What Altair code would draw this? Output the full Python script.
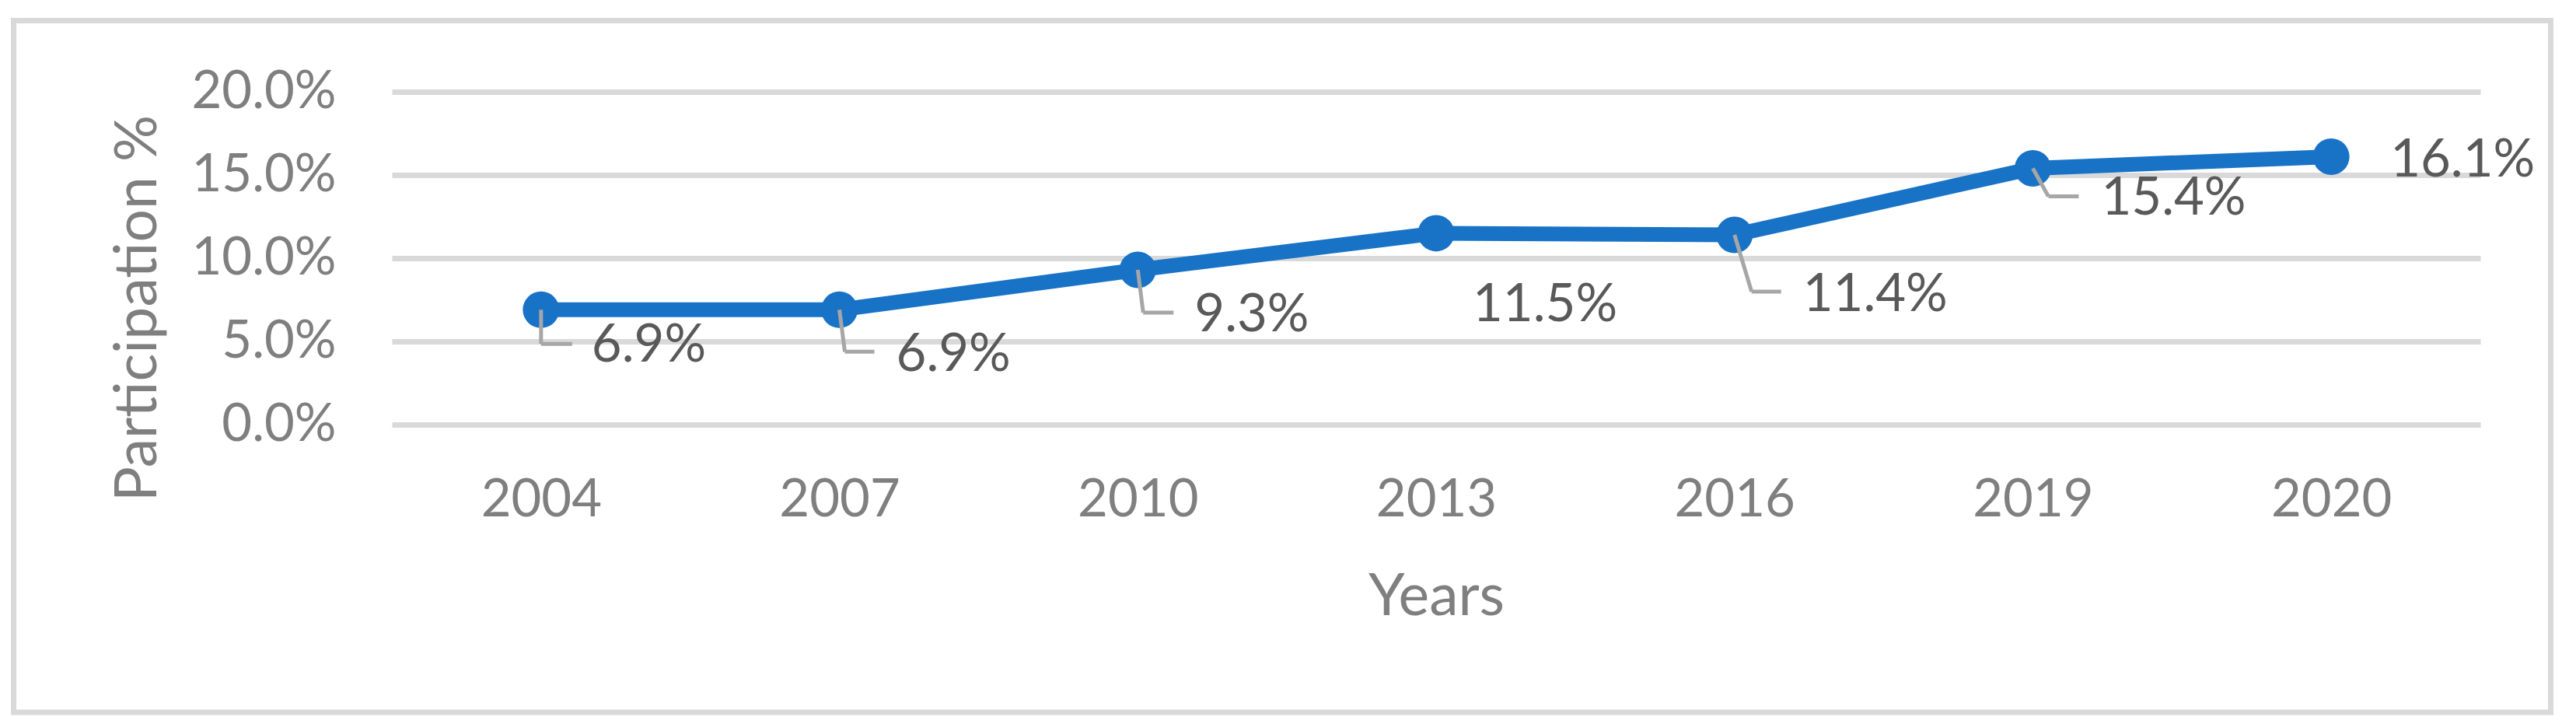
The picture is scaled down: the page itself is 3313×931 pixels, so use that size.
import altair as alt
import pandas as pd

# ---- data ----
years = ["2004", "2007", "2010", "2013", "2016", "2019", "2020"]
participation = [0.069, 0.069, 0.093, 0.115, 0.114, 0.154, 0.161]
y_ticks = [0.0, 0.05, 0.10, 0.15, 0.20]

df = pd.DataFrame({"year": years, "value": participation})

# ---- styling: manual data-label placement (pixel offsets from each marker) ----
label_dx = [65, 73, 73, 47, 88, 88, 76]
label_dy = [67, 79, 79, 113, 98, 60, 26]
# leader line elbow (dx, dy) and horizontal run length; None = no leader
leader_elbow = [(0, 44), (7, 54), (7, 55), None, (22, 73), (20, 36), None]
leader_run = [40, 38, 39, 0, 38, 39, 0]

W, H = 2686, 428
FONT = "Lato"
BLUE = "#1873C7"
GRID = "#D9D9D9"
AXIS_TXT = "#7F7F7F"
LABEL_TXT = "#595959"
LEADER = "#A6A6A6"

x_enc = alt.X(
    "year:O",
    sort=years,
    scale=alt.Scale(type="point", padding=0.5, domain=years),
    axis=alt.Axis(
        title="Years",
        labelAngle=0,
        labelFont=FONT,
        labelFontSize=67,
        labelColor=AXIS_TXT,
        labelBaseline="alphabetic",
        labelPadding=117,
        labelLimit=0,
        ticks=False,
        domain=False,
        grid=False,
        titleFont=FONT,
        titleFontSize=75,
        titleFontWeight="normal",
        titleColor=AXIS_TXT,
        titleBaseline="alphabetic",
        titleY=244,
        titleX=W / 2,
        titleAlign="center",
        titleLimit=0,
    ),
)
y_enc = alt.Y(
    "value:Q",
    scale=alt.Scale(domain=[0, 0.2], nice=False, zero=True),
    axis=alt.Axis(
        values=y_ticks,
        format=".1%",
        title="Participation %",
        labelFont=FONT,
        labelFontSize=67,
        labelColor=AXIS_TXT,
        labelPadding=72,
        labelLimit=0,
        ticks=False,
        domain=False,
        grid=True,
        gridColor=GRID,
        gridWidth=7,
        titleFont=FONT,
        titleFontSize=75,
        titleFontWeight="normal",
        titleColor=AXIS_TXT,
        titleAngle=270,
        titleAlign="center",
        titleBaseline="alphabetic",
        titleX=-304,
        titleY=278,
        titleLimit=0,
    ),
)

frame = alt.Chart(pd.DataFrame({"a": [0]})).mark_rect(
    fill=None, stroke=GRID, strokeWidth=7
).encode(
    x=alt.value(-486.5), x2=alt.value(2776.5), y=alt.value(-91.5), y2=alt.value(798)
)

base = alt.Chart(df)
line = base.mark_line(color=BLUE, strokeWidth=19).encode(x=x_enc, y=y_enc)
points = base.mark_circle(size=2209, color=BLUE, opacity=1).encode(x=x_enc, y=y_enc)

layers = [frame, line, points]

for i, yr in enumerate(years):
    sub = base.transform_filter(alt.datum.year == yr)
    if leader_elbow[i] is not None:
        ex, ey = leader_elbow[i]
        seg1 = sub.mark_rule(
            color=LEADER, strokeWidth=5,
            xOffset=0, yOffset=0, x2Offset=ex, y2Offset=ey,
        ).encode(x=x_enc, y=y_enc, x2=alt.X2("year"), y2=alt.Y2("value"))
        seg2 = sub.mark_rule(
            color=LEADER, strokeWidth=5,
            xOffset=ex, yOffset=ey, x2Offset=ex + leader_run[i], y2Offset=ey,
        ).encode(x=x_enc, y=y_enc, x2=alt.X2("year"), y2=alt.Y2("value"))
        layers += [seg1, seg2]
    txt = sub.mark_text(
        align="left", baseline="alphabetic", dx=label_dx[i], dy=label_dy[i],
        font=FONT, fontSize=67, color=LABEL_TXT,
    ).encode(x=x_enc, y=y_enc, text=alt.Text("value:Q", format=".1%"))
    layers.append(txt)

chart = alt.layer(*layers).properties(
    width=W,
    height=H,
    autosize=alt.AutoSizeParams(type="none"),
    padding={"left": 496, "top": 110, "right": 105, "bottom": 374},
    background="white",
).configure_view(stroke=None)

chart.save("out.html", embed_options={"renderer": "svg", "actions": False})
